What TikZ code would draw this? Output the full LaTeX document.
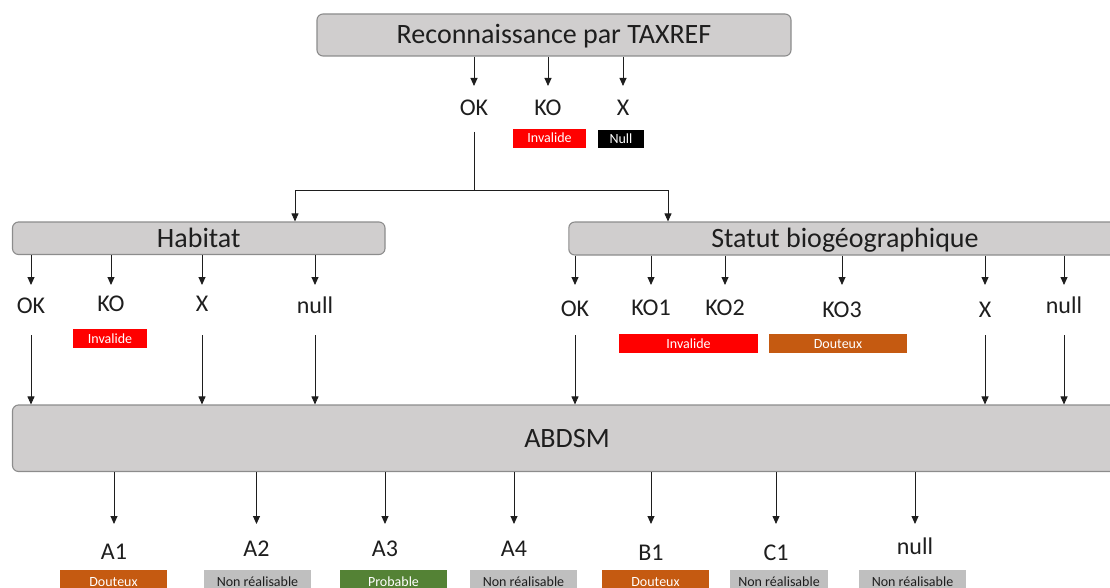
\documentclass[tikz,border=0pt]{standalone}
\usepackage{fontspec}
\setmainfont{Carlito}
\usetikzlibrary{arrows.meta}
\definecolor{boxfill}{HTML}{D0CECE}
\definecolor{boxline}{HTML}{8C8C8C}
\definecolor{tagred}{HTML}{FF0000}
\definecolor{tagorange}{HTML}{C55A11}
\definecolor{taggreen}{HTML}{548235}
\definecolor{taggray}{HTML}{BFBFBF}
\definecolor{ink}{HTML}{1E1E1E}
\begin{document}
\begin{tikzpicture}[x=1pt,y=-1pt,
  graybox/.style={draw=boxline,fill=boxfill,rounded corners=6pt,line width=1.1pt,
    font=\fontsize{28}{30}\selectfont,text=ink,inner sep=0pt,text height=18pt,text depth=0pt},
  lbl/.style={font=\fontsize{24}{26}\selectfont,text=ink,inner sep=0pt,text height=15.5pt,text depth=0pt},
  tag/.style={font=\fontsize{14}{15}\selectfont,inner sep=0pt,text height=9pt,text depth=0pt,minimum height=19pt},
  redtag/.style={tag,fill=tagred,text=white},
  orangetag/.style={tag,fill=tagorange,text=white},
  greentag/.style={tag,fill=taggreen,text=white},
  blacktag/.style={tag,fill=black,text=white},
  graytag/.style={tag,fill=taggray,text=ink},
  arr/.style={draw=ink,line width=0.9pt,-{Triangle[length=8pt,width=7pt]}},
  ln/.style={draw=ink,line width=0.9pt},
]
\useasboundingbox (0,0) rectangle (1110,588);
\clip (0,0) rectangle (1110,588);

% ---------- main boxes
\node[graybox,minimum width=474pt,minimum height=42pt] (tax) at (554,35) {Reconnaissance par TAXREF};
\node[graybox,minimum width=372.5pt,minimum height=32.5pt] (hab) at (198.75,238.25) {Habitat};
\node[graybox,minimum width=552.4pt,minimum height=33pt] (stat) at (845,238.5) {Statut biogéographique};
\node[graybox,minimum width=1109pt,minimum height=66.5pt] (abd) at (567,438.25) {ABDSM};

% ---------- rows of arrow tips / starts
\coordinate (rowA) at (0,86);
\coordinate (rowB) at (0,285);
\coordinate (rowC) at (0,335);
\coordinate (rowD) at (0,524);

% ---------- TAXREF results
\node[lbl] (tok) at (474,108) {OK};
\node[lbl] (tko) at (548,108) {KO};
\node[lbl] (tx) at (623,108) {X};
\node[redtag,minimum width=73pt] (tkotag) at (549.5,138.5) {Invalide};
\node[blacktag,minimum width=46pt,minimum height=18pt] (txtag) at (621,139) {Null};
\foreach \n in {tok,tko,tx} \draw[arr] (tax.south -| \n) -- (\n |- rowA);

\coordinate (okdown) at (474,132);
\coordinate (split) at (474,190.5);
\coordinate (habin) at (295,190.5);
\coordinate (statin) at (668,190.5);
\draw[ln] (okdown) -- (split);
\draw[ln] (habin) -- (statin);
\draw[arr] (habin) -- (habin |- hab.north);
\draw[arr] (statin) -- (statin |- stat.north);

% ---------- Habitat results
\node[lbl] (hok) at (31,306) {OK};
\node[lbl] (hko) at (111,304) {KO};
\node[lbl] (hx) at (202,304) {X};
\node[lbl] (hnull) at (315,306) {null};
\node[redtag,minimum width=74pt] (hkotag) at (110,338.5) {Invalide};
\foreach \n in {hok,hko,hx,hnull} \draw[arr] (hab.south -| \n) -- (\n |- rowB);
\foreach \n in {hok,hx,hnull} \draw[arr] (\n |- rowC) -- (\n |- abd.north);

% ---------- Statut results
\node[lbl] (sok) at (575,309) {OK};
\node[lbl] (sko1) at (651,308) {KO1};
\node[lbl] (sko2) at (725,308) {KO2};
\node[lbl] (sko3) at (842,310) {KO3};
\node[lbl] (sx) at (985,310) {X};
\node[lbl] (snull) at (1064,306) {null};
\node[redtag,minimum width=139pt] (skotag) at (688.5,343.5) {Invalide};
\node[orangetag,minimum width=138.5pt] (sko3tag) at (838,343.5) {Douteux};
\foreach \n in {sok,sko1,sko2,sko3,sx,snull} \draw[arr] (stat.south -| \n) -- (\n |- rowB);
\foreach \n in {sok,sx,snull} \draw[arr] (\n |- rowC) -- (\n |- abd.north);

% ---------- ABDSM results
\node[lbl] (a1) at (114,552) {A1};
\node[lbl] (a2) at (256.5,549) {A2};
\node[lbl] (a3) at (385,549) {A3};
\node[lbl] (a4) at (514,549) {A4};
\node[lbl] (b1) at (651,553) {B1};
\node[lbl] (c1) at (776,553) {C1};
\node[lbl] (anull) at (915,547) {null};
\foreach \n in {a1,a2,a3,a4,b1,c1,anull} \draw[arr] (abd.south -| \n) -- (\n |- rowD);

\node[orangetag,minimum width=107pt,minimum height=23pt] (a1tag) at (113.5,581.5) {Douteux};
\node[graytag,minimum width=107pt,minimum height=23pt] (a2tag) at (257.5,581.5) {Non réalisable};
\node[greentag,minimum width=107pt,minimum height=23pt] (a3tag) at (393.5,581.5) {Probable};
\node[graytag,minimum width=107pt,minimum height=23pt] (a4tag) at (523.5,581.5) {Non réalisable};
\node[orangetag,minimum width=107pt,minimum height=23pt] (b1tag) at (655.5,581.5) {Douteux};
\node[graytag,minimum width=98pt,minimum height=23pt] (c1tag) at (779,581.5) {Non réalisable};
\node[graytag,minimum width=107pt,minimum height=23pt] (anulltag) at (912.5,581.5) {Non réalisable};
\end{tikzpicture}
\end{document}
